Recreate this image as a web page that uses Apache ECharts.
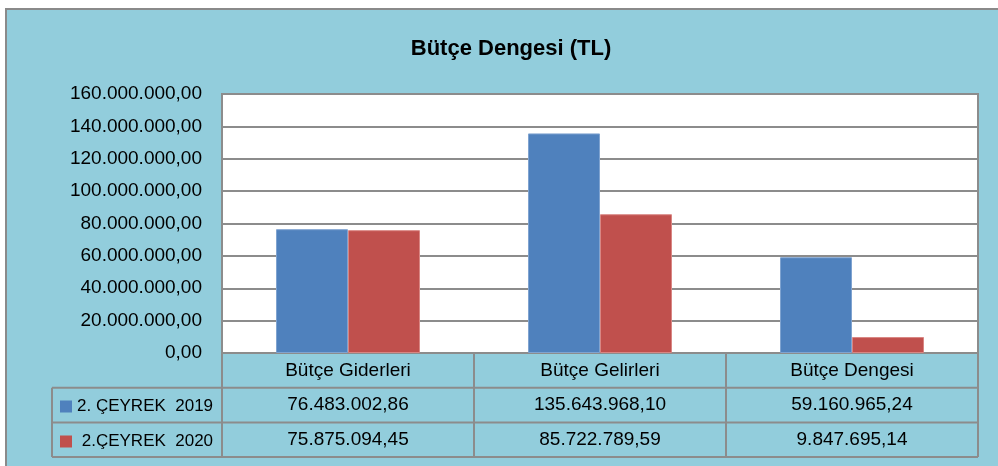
<!DOCTYPE html>
<html>
<head>
<meta charset="utf-8">
<script src="https://cdn.jsdelivr.net/npm/echarts@6/dist/echarts.min.js"></script>
<style>html,body{margin:0;padding:0;background:#fff}#c{width:998px;height:466px}</style>
</head>
<body>
<div id="c"></div>
<script>
const titleText = 'Bütçe Dengesi (TL)';
const categories = ['Bütçe Giderleri', 'Bütçe Gelirleri', 'Bütçe Dengesi'];
const seriesNames = ['2. ÇEYREK  2019', ' 2.ÇEYREK  2020'];
const values2019 = [76483002.86, 135643968.10, 59160965.24];
const values2020 = [75875094.45, 85722789.59, 9847695.14];
const yMin = 0, yMax = 160000000, yStep = 20000000;

function fmtTR(v) {
  const parts = v.toFixed(2).split('.');
  parts[0] = parts[0].replace(/\B(?=(\d{3})+(?!\d))/g, '.');
  return parts[0] + ',' + parts[1];
}

const FONT = 'Liberation Sans';
const FS = 19;
const GL = 222, GR = 978, GT = 94, GB = 353;
const ROW = 34.7;
const TL = 52;
const lineColor = '#8c8c8c';

const chart = echarts.init(document.getElementById('c'));

const g = [];
g.push({type:'rect', shape:{x:6, y:9, width:1100, height:600}, style:{fill:'#92CDDC', stroke:'#8a8a8a', lineWidth:2}, z:-10});
const rowsY = [GB + ROW, GB + 2*ROW, GB + 3*ROW];
rowsY.forEach(y => g.push({type:'line', shape:{x1:TL, y1:y, x2:GR, y2:y}, style:{stroke:lineColor, lineWidth:2}, z:5}));
const colW = (GR - GL) / categories.length;
[GL, GL + colW, GL + 2*colW, GR].forEach(x => g.push({type:'line', shape:{x1:x, y1:GB, x2:x, y2:GB + 3*ROW}, style:{stroke:lineColor, lineWidth:2}, z:5}));
g.push({type:'line', shape:{x1:TL, y1:GB+ROW, x2:TL, y2:GB+3*ROW}, style:{stroke:lineColor, lineWidth:2}, z:5});

function legendFor(i, top) {
  return {
    orient: 'vertical', left: 60, top: top, padding: 0,
    itemWidth: 12, itemHeight: 12, itemGap: 0,
    icon: 'rect',
    itemStyle: {borderWidth: 0},
    textStyle: {fontFamily: FONT, fontSize: 17, color: '#000', lineHeight: 12},
    data: [seriesNames[i]]
  };
}

chart.setOption({
  backgroundColor: 'transparent',
  animation: false,
  title: {
    text: titleText, left: 506, top: 33, textAlign: 'center',
    textStyle: {fontFamily: FONT, fontSize: 22, fontWeight: 'bold', color: '#000'}
  },
  graphic: g,
  legend: [legendFor(0, 398), legendFor(1, 433)],
  grid: {
    left: GL, right: 998 - GR, top: GT, bottom: 466 - GB,
    show: true, backgroundColor: '#fff', borderColor: lineColor, borderWidth: 2
  },
  xAxis: {
    type: 'category', data: categories,
    axisLine: {show: true, lineStyle: {color: lineColor, width: 2}},
    axisTick: {show: false},
    axisLabel: {
      margin: 0, interval: 0,
      formatter: function (v, i) {
        return '{h|' + v + '}\n{v|' + fmtTR(values2019[i]) + '}\n{v|' + fmtTR(values2020[i]) + '}';
      },
      rich: {
        h: {fontFamily: FONT, fontSize: FS, color: '#000', lineHeight: ROW},
        v: {fontFamily: FONT, fontSize: FS, color: '#000', lineHeight: ROW}
      }
    }
  },
  yAxis: {
    type: 'value', min: yMin, max: yMax, interval: yStep,
    axisLine: {show: true, lineStyle: {color: lineColor, width: 2}},
    axisTick: {show: false},
    splitLine: {lineStyle: {color: lineColor, width: 2}},
    axisLabel: {
      margin: 20, formatter: v => fmtTR(v),
      fontFamily: FONT, fontSize: FS, color: '#000'
    }
  },
  series: [
    {name: seriesNames[0], type: 'bar', data: values2019, barWidth: 72, barGap: '0%',
     itemStyle: {color: '#4F81BD', borderColor: '#7FA3D0', borderWidth: 1}},
    {name: seriesNames[1], type: 'bar', data: values2020, barWidth: 72, barGap: '0%',
     itemStyle: {color: '#C0504D', borderColor: '#D98683', borderWidth: 1}}
  ]
});
</script>
</body>
</html>
